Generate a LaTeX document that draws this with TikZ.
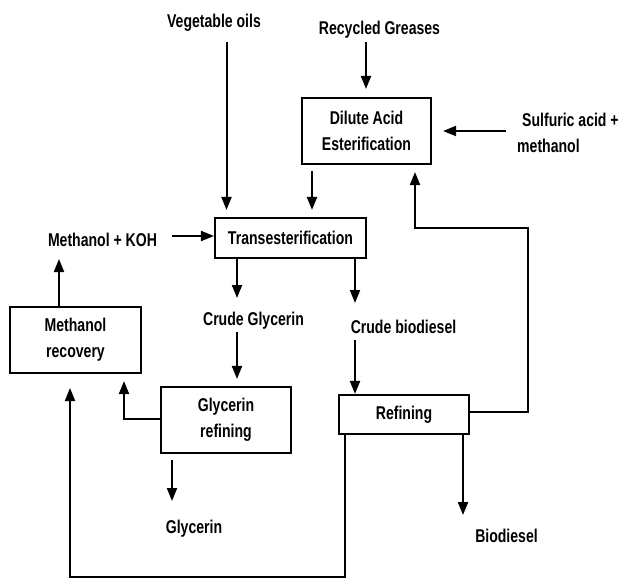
\documentclass[tikz,border=0pt]{standalone}
\usepackage{fontspec}
\setmainfont{Liberation Sans}[FakeStretch=0.76]
\usetikzlibrary{arrows.meta,calc}
\begin{document}
\begin{tikzpicture}[x=1pt,y=-1pt,
  every node/.style={font=\bfseries\fontsize{18.5}{26}\selectfont, inner sep=0pt},
  box/.style={draw, line width=2.1pt, align=center},
  lbl/.style={anchor=base},
  arr/.style={line width=2pt, -{Triangle[length=13pt,width=10pt]}}]
\useasboundingbox[fill=white] (0,0) rectangle (621,579);

% boxes
\node[box, minimum width=129pt, minimum height=66pt] (dil) at (366.5,131) {Dilute Acid\\Esterification};
\node[box, minimum width=151pt, minimum height=40pt] (tr) at (290.5,238) {Transesterification};
\node[box, minimum width=131pt, minimum height=66pt] (mr) at (75.5,340) {Methanol\\recovery};
\node[box, minimum width=130pt, minimum height=66pt] (gr) at (226,420) {Glycerin\\refining};
\node[box, minimum width=130pt, minimum height=39pt] (rf) at (404,414.5) {Refining};

% labels
\node[lbl] (veg) at (214,27) {Vegetable oils};
\node[lbl] (rg) at (379.5,34) {Recycled Greases};
\node[lbl, anchor=base west] (sa) at (522,126) {Sulfuric acid +};
\node[lbl, anchor=base west] (sb) at (517,152) {methanol};
\node[lbl] (koh) at (102.5,246) {Methanol + KOH};
\node[lbl] (cg) at (253.5,325) {Crude Glycerin};
\node[lbl] (cb) at (403.5,333) {Crude biodiesel};
\node[lbl] (gl) at (194,533) {Glycerin};
\node[lbl] (bd) at (506.5,542) {Biodiesel};

% connector coordinates
\coordinate (vegA) at (226.5,42);
\coordinate (rgA) at (366,42);
\coordinate (saA) at (506,131);
\coordinate (dt) at (312,171);
\coordinate (kohA) at (172,236);
\coordinate (mkB) at (59,259);
\coordinate (tcg) at (237,298);
\coordinate (cgA) at (237,332);
\coordinate (gmA) at (124,419);
\coordinate (ggA) at (172,460);
\coordinate (ggB) at (172,501);
\coordinate (tcb) at (355,303);
\coordinate (cbA) at (355,340);
\coordinate (rdA) at (527.5,412);
\coordinate (rdB) at (415,228);
\coordinate (rbA) at (463,515);
\coordinate (rmA) at (345,577);
\coordinate (rmB) at (70,388);

% connectors
\draw[arr, shorten >=7pt] (vegA) -- (vegA |- tr.north);
\draw[arr, shorten >=8pt] (rgA) -- (rgA |- dil.north);
\draw[arr, shorten >=11pt] (saA) -- (saA -| dil.east);
\draw[arr, shorten >=7pt] (dt) -- (dt |- tr.north);
\draw[arr] (kohA) -- (kohA -| tr.west);
\draw[arr] (mkB |- mr.north) -- (mkB);
\draw[arr] (tcg |- tr.south) -- (tcg);
\draw[arr, shorten >=7pt] (cgA) -- (cgA |- gr.north);
\draw[arr, shorten >=7pt] (gmA -| gr.west) -- (gmA) -- (gmA |- mr.south);
\draw[arr] (ggA) -- (ggB);
\draw[arr] (tcb |- tr.south) -- (tcb);
\draw[arr] (cbA) -- (cbA |- rf.north);
\draw[arr, shorten >=7pt] (rdA -| rf.east) -- (rdA) |- (rdB) -- (rdB |- dil.south);
\draw[arr] (rbA |- rf.south) -- (rbA);
\draw[arr] (rmA |- rf.south) -- (rmA) -| (rmB);
\end{tikzpicture}
\end{document}
